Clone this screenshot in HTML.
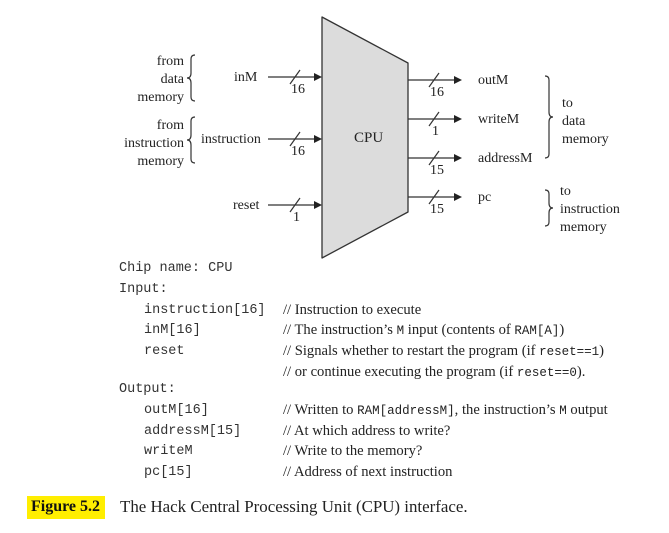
<!DOCTYPE html>
<html><head><style>
body{margin:0;background:#fff;width:669px;height:533px;overflow:hidden;position:relative;font-family:"Liberation Serif",serif;color:#222}
.t{position:absolute;white-space:nowrap;font-size:14.6px;line-height:16px}
.m{position:absolute;white-space:nowrap;font-family:"Liberation Mono",monospace;font-size:13.5px;line-height:16px;color:#333}
.mm{font-family:"Liberation Mono",monospace;font-size:12.5px}
</style></head><body>
<svg width="669" height="533" style="position:absolute;left:0;top:0" font-family="Liberation Serif" font-size="14" fill="#222">
<polygon points="322,17 408,63 408,212 322,258" fill="#dcdcdc" stroke="#333" stroke-width="1.3" stroke-linejoin="round"/>
<text x="354" y="142" font-size="15">CPU</text>
<g stroke="#333" stroke-width="1.2">
<line x1="268" y1="77" x2="314" y2="77"/><line x1="290" y1="84" x2="300" y2="70"/>
<line x1="268" y1="139" x2="314" y2="139"/><line x1="290" y1="146" x2="300" y2="132"/>
<line x1="268" y1="205" x2="314" y2="205"/><line x1="290" y1="212" x2="300" y2="198"/>
<line x1="408" y1="80" x2="454" y2="80"/><line x1="429" y1="87" x2="439" y2="73"/>
<line x1="408" y1="119" x2="454" y2="119"/><line x1="429" y1="126" x2="439" y2="112"/>
<line x1="408" y1="158" x2="454" y2="158"/><line x1="429" y1="165" x2="439" y2="151"/>
<line x1="408" y1="197" x2="454" y2="197"/><line x1="429" y1="204" x2="439" y2="190"/>
</g>
<g fill="#222">
<polygon points="314,73 322,77 314,81"/><polygon points="314,135 322,139 314,143"/><polygon points="314,201 322,205 314,209"/>
<polygon points="454,76 462,80 454,84"/><polygon points="454,115 462,119 454,123"/><polygon points="454,154 462,158 454,162"/><polygon points="454,193 462,197 454,201"/>
</g>
<g font-size="14">
<text x="291" y="93">16</text><text x="291" y="155">16</text><text x="293" y="221">1</text>
<text x="430" y="96">16</text><text x="432" y="135">1</text><text x="430" y="174">15</text><text x="430" y="213">15</text>
<text x="234" y="81">inM</text><text x="201" y="143">instruction</text><text x="233" y="209">reset</text>
<text x="478" y="84">outM</text><text x="478" y="123">writeM</text><text x="478" y="162">addressM</text><text x="478" y="201">pc</text>
<text x="184" y="65" text-anchor="end">from</text><text x="184" y="83" text-anchor="end">data</text><text x="184" y="101" text-anchor="end">memory</text>
<text x="184" y="129" text-anchor="end">from</text><text x="184" y="147" text-anchor="end">instruction</text><text x="184" y="165" text-anchor="end">memory</text>
<text x="562" y="107">to</text><text x="562" y="125">data</text><text x="562" y="143">memory</text>
<text x="560" y="195">to</text><text x="560" y="213">instruction</text><text x="560" y="231">memory</text>
</g>
<g fill="none" stroke="#333" stroke-width="1.2">
<path d="M195,55 q-4,0 -4,4 v14 q0,5 -4,5 q4,0 4,5 v14 q0,4 4,4"/>
<path d="M195,117 q-4,0 -4,4 v14 q0,5 -4,5 q4,0 4,5 v14 q0,4 4,4"/>
<path d="M545,76 q4,0 4,4 v32 q0,5 4,5 q-4,0 -4,5 v32 q0,4 -4,4"/>
<path d="M545,190 q4,0 4,4 v9 q0,5 4,5 q-4,0 -4,5 v9 q0,4 -4,4"/>
</g>
</svg>
<div class="m" style="left:119px;top:261px">Chip name: CPU</div>
<div class="m" style="left:119px;top:282px">Input:</div>
<div class="m" style="left:144px;top:303px">instruction[16]</div>
<div class="m" style="left:144px;top:323px">inM[16]</div>
<div class="m" style="left:144px;top:344px">reset</div>
<div class="m" style="left:119px;top:382px">Output:</div>
<div class="m" style="left:144px;top:403px">outM[16]</div>
<div class="m" style="left:144px;top:424px">addressM[15]</div>
<div class="m" style="left:144px;top:444px">writeM</div>
<div class="m" style="left:144px;top:465px">pc[15]</div>
<div class="t" style="left:283px;top:302px">// Instruction to execute</div>
<div class="t" style="left:283px;top:322px">// The instruction’s <span class="mm">M</span> input (contents of <span class="mm">RAM[A]</span>)</div>
<div class="t" style="left:283px;top:343px">// Signals whether to restart the program (if <span class="mm">reset==1</span>)</div>
<div class="t" style="left:283px;top:364px">// or continue executing the program (if <span class="mm">reset==0</span>).</div>
<div class="t" style="left:283px;top:402px">// Written to <span class="mm">RAM[addressM]</span>, the instruction’s <span class="mm">M</span> output</div>
<div class="t" style="left:283px;top:423px">// At which address to write?</div>
<div class="t" style="left:283px;top:443px">// Write to the memory?</div>
<div class="t" style="left:283px;top:464px">// Address of next instruction</div>
<div style="position:absolute;left:27px;top:496px;width:78px;height:23px;background:#ffee00"></div>
<div class="t" style="left:31px;top:499px;font-size:16px;font-weight:bold;color:#111">Figure 5.2</div>
<div class="t" style="left:120px;top:499px;font-size:16.9px">The Hack Central Processing Unit (CPU) interface.</div>
</body></html>
